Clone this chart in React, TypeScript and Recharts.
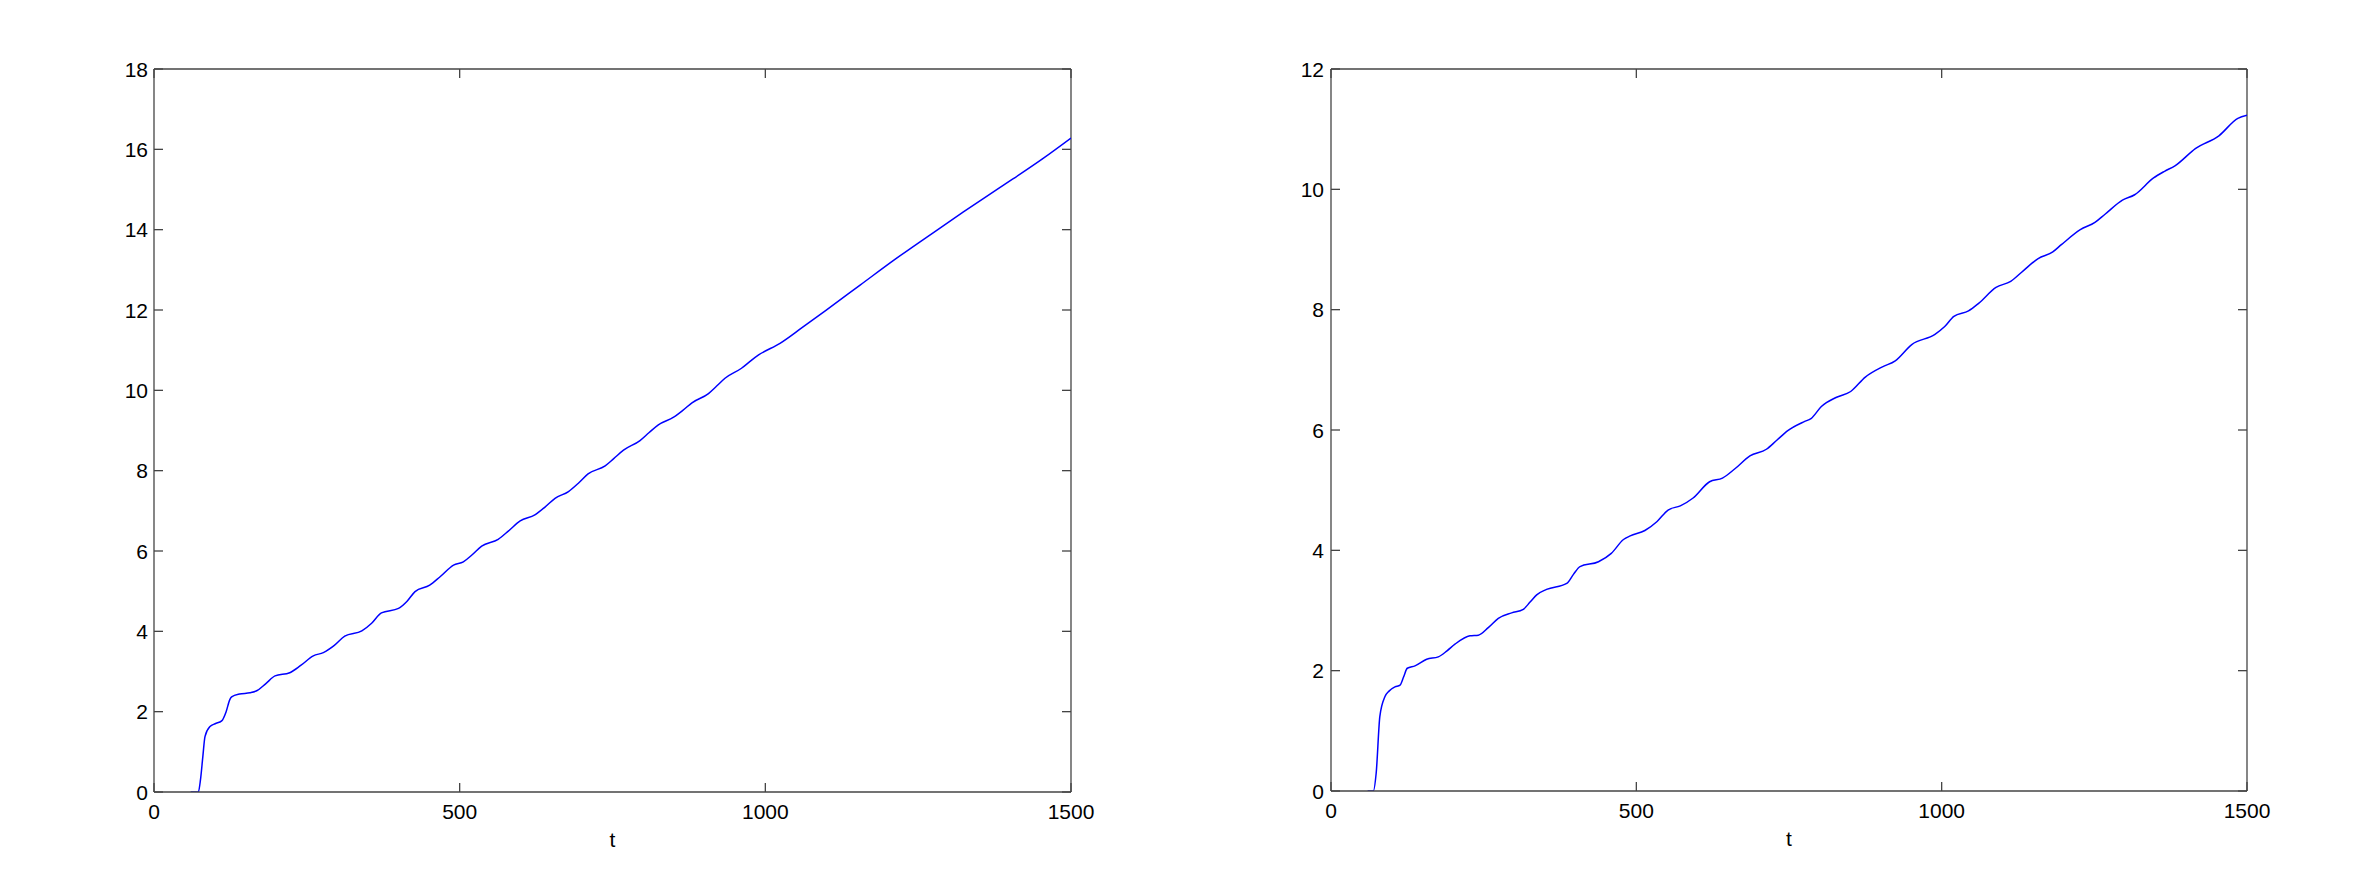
import React from 'react';
import { LineChart, Line, XAxis, YAxis, ReferenceLine } from 'recharts';

const tLeft = [60, 72.5, 76, 80, 83.4, 91.6, 100, 110.7, 118, 124, 127, 140, 157, 168, 183, 198, 222, 240, 260.6, 277, 295, 312, 340, 356, 372, 400, 414, 427, 451, 468, 490, 506, 520, 536, 563, 580, 599, 623, 640, 656, 678, 695, 710, 738, 752, 768, 795, 810, 825, 850, 865, 880, 907, 920, 934, 961, 975, 989, 1024, 1060, 1098, 1155, 1212, 1278, 1324, 1384, 1455, 1500];
const vLeft = [0, 0, 0.3, 0.9, 1.38, 1.63, 1.7, 1.77, 2.0, 2.3, 2.37, 2.44, 2.47, 2.52, 2.7, 2.89, 2.97, 3.15, 3.39, 3.47, 3.65, 3.88, 4.01, 4.2, 4.46, 4.57, 4.75, 4.99, 5.15, 5.36, 5.65, 5.73, 5.9, 6.12, 6.29, 6.5, 6.75, 6.9, 7.1, 7.31, 7.48, 7.7, 7.92, 8.12, 8.3, 8.51, 8.75, 8.95, 9.14, 9.33, 9.5, 9.69, 9.92, 10.1, 10.3, 10.55, 10.72, 10.88, 11.17, 11.56, 11.98, 12.62, 13.26, 13.96, 14.44, 15.05, 15.78, 16.28];

const tRight = [60, 69.3, 74, 80, 88.4, 95, 104.8, 113, 119, 124.9, 137.5, 156.7, 175.7, 190, 203, 227.6, 241.3, 258, 274, 295.8, 314.9, 326, 336.8, 353, 386, 397, 407.7, 438, 459, 479, 490, 514, 534, 552, 572, 593, 620, 641, 662, 686, 713, 730, 748, 775, 786, 803, 827, 851, 875, 903, 924, 951, 989, 1005, 1020, 1044, 1061, 1089, 1113, 1134, 1158, 1182, 1196, 1227, 1251, 1268, 1296, 1316, 1347, 1365, 1382, 1416, 1454, 1485, 1500];
const vRight = [0, 0, 0.3, 1.24, 1.57, 1.66, 1.73, 1.76, 1.9, 2.04, 2.08, 2.19, 2.23, 2.33, 2.44, 2.58, 2.59, 2.72, 2.87, 2.96, 3.02, 3.14, 3.26, 3.35, 3.45, 3.6, 3.73, 3.81, 3.95, 4.18, 4.24, 4.33, 4.48, 4.67, 4.74, 4.87, 5.14, 5.2, 5.36, 5.57, 5.68, 5.83, 5.99, 6.14, 6.19, 6.39, 6.54, 6.64, 6.88, 7.05, 7.15, 7.42, 7.59, 7.72, 7.89, 7.98, 8.11, 8.37, 8.47, 8.65, 8.85, 8.96, 9.08, 9.33, 9.45, 9.59, 9.82, 9.91, 10.19, 10.3, 10.39, 10.68, 10.89, 11.18, 11.23];

const xTicks = [0, 500, 1000, 1500];
const yTicksLeft = [0, 2, 4, 6, 8, 10, 12, 14, 16, 18];
const yTicksRight = [0, 2, 4, 6, 8, 10, 12];
const xLabel = 't';

const dataLeft = tLeft.map((t, i) => ({ t, v: vLeft[i] }));
const dataRight = tRight.map((t, i) => ({ t, v: vRight[i] }));

const FONT = '"Liberation Sans", Arial, Helvetica, sans-serif';
const AXIS = '#444';
const FS = 21;
const TL = 9;

function makeXTick(plotH: number) {
  return (props: any) => {
    const { x, y, payload } = props;
    return (
      <g>
        <line x1={x} x2={x} y1={y} y2={y - TL} stroke={AXIS} strokeWidth={1.3} />
        <line x1={x} x2={x} y1={y - plotH} y2={y - plotH + TL} stroke={AXIS} strokeWidth={1.3} />
        <text x={x} y={y + 27} textAnchor="middle" fontSize={FS} fill="#000" fontFamily={FONT}>{payload.value}</text>
      </g>
    );
  };
}

function makeYTick(plotW: number, gap: number) {
  return (props: any) => {
    const { x, y, payload } = props;
    return (
      <g>
        <line x1={x} x2={x + TL} y1={y} y2={y} stroke={AXIS} strokeWidth={1.3} />
        <line x1={x + plotW} x2={x + plotW - TL} y1={y} y2={y} stroke={AXIS} strokeWidth={1.3} />
        <text x={x - gap} y={y} dy="0.36em" textAnchor="end" fontSize={FS} fill="#000" fontFamily={FONT}>{payload.value}</text>
      </g>
    );
  };
}

function Panel({ data, yMax, yTicks, margin, plotW, plotH, gap }: any) {
  return (
    <LineChart width={1181} height={891} data={data} margin={margin}>
      <XAxis
        dataKey="t"
        type="number"
        domain={[0, 1500]}
        ticks={xTicks}
        interval={0}
        height={60}
        tickSize={0}
        tickMargin={0}
        tickLine={false}
        axisLine={{ stroke: AXIS, strokeWidth: 1.3 }}
        tick={makeXTick(plotH)}
        allowDataOverflow
        label={{ value: xLabel, position: 'insideBottom', offset: 5, style: { fontSize: FS, fill: '#000', fontFamily: FONT } }}
      />
      <YAxis
        type="number"
        domain={[0, yMax]}
        ticks={yTicks}
        interval={0}
        width={60}
        tickSize={0}
        tickMargin={0}
        tickLine={false}
        axisLine={{ stroke: AXIS, strokeWidth: 1.3 }}
        tick={makeYTick(plotW, gap)}
        allowDataOverflow
      />
      <ReferenceLine y={yMax} stroke={AXIS} strokeWidth={1.3} />
      <ReferenceLine x={1500} stroke={AXIS} strokeWidth={1.3} />
      <Line
        dataKey="v"
        type="monotone"
        stroke="#0000ff"
        strokeWidth={1.5}
        dot={false}
        isAnimationActive={false}
      />
    </LineChart>
  );
}

export default function App() {
  return (
    <div style={{ position: 'absolute', left: 0, top: 0, width: 2362, height: 891, background: '#fff', fontFamily: FONT }}>
      <div style={{ position: 'absolute', left: 0, top: 0 }}>
        <Panel data={dataLeft} yMax={18} yTicks={yTicksLeft} margin={{ top: 69, right: 110, bottom: 39, left: 94 }} plotW={917} plotH={723} gap={6} />
      </div>
      <div style={{ position: 'absolute', left: 1181, top: 0 }}>
        <Panel data={dataRight} yMax={12} yTicks={yTicksRight} margin={{ top: 69, right: 115, bottom: 40, left: 90 }} plotW={916} plotH={722} gap={7} />
      </div>
    </div>
  );
}
